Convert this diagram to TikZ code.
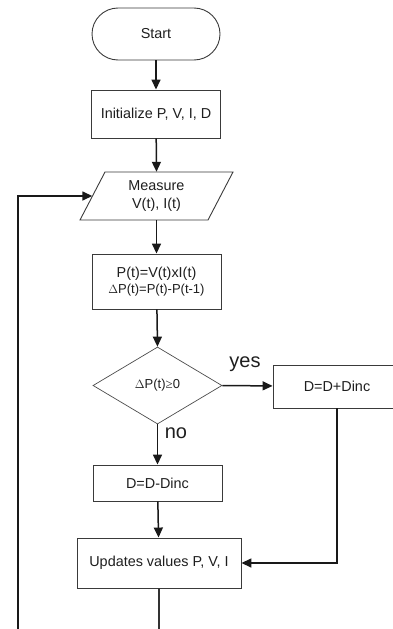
\documentclass[tikz,border=0pt]{standalone}
\usepackage{fontspec}
\setmainfont{Liberation Sans}
\newfontfamily\serifsym{Liberation Serif}
\usetikzlibrary{shapes.geometric,arrows.meta}
\definecolor{boxline}{HTML}{3A3A3A}
\definecolor{txt}{HTML}{1E1E1E}
\tikzset{
  box/.style={draw=boxline, line width=0.9pt, rectangle, inner sep=2pt, align=center, text=txt, font=\fontsize{14.4}{17}\selectfont},
  flow/.style={draw=black!90, line width=1.5pt, -{Triangle[length=10pt,width=9pt]}},
  plain/.style={draw=black!80, line width=1.5pt},
  lbl/.style={text=txt, font=\fontsize{20}{22}\selectfont, inner sep=0pt}
}
\begin{document}
\begin{tikzpicture}[x=1pt,y=-1pt]
\useasboundingbox (0,0) rectangle (393,629);
\clip (0,0) rectangle (393,629);
% nodes
\node[box, rounded corners=26pt, minimum width=128pt, minimum height=52pt] (start) at (156,34) {Start};
\node[box, minimum width=129pt, minimum height=48pt] (init) at (156,114) {Initialize P, V, I, D};
\draw[boxline, line width=0.9pt] (80,220) -- (105,172) -- (233,172) -- (208,220) -- cycle;
\node[rectangle, inner sep=0pt, minimum width=128pt, minimum height=48pt, align=center, text=txt, font=\fontsize{14.4}{18}\selectfont] (meas) at (156.5,196) {Measure\\V(t), I(t)};
\node[box, minimum width=129pt, minimum height=55pt] (pbox) at (156.5,281.5) {P(t)=V(t)xI(t)\\[-1pt]{\fontsize{13}{15}\selectfont $\Delta$P(t)=P(t)-P(t-1)}};
\node[diamond, draw=black!70, line width=0.7pt, inner sep=0pt, minimum width=129pt, minimum height=77pt, text=txt, font=\fontsize{13}{15}\selectfont] (dia) at (157.5,385.5) {$\Delta$P(t){\serifsym ≥}0};
\node[box, minimum width=128pt, minimum height=43pt] (plus) at (337,386.5) {D=D+Dinc};
\node[box, minimum width=129pt, minimum height=36pt] (minus) at (157.5,483) {D=D-Dinc};
\node[box, minimum width=164pt, minimum height=50pt] (upd) at (159,563) {Updates values P, V, I};
% labels
\node[lbl] (yes) at (245,364) {yes};
\node[lbl] (no) at (176,433) {no};
% free ends
\coordinate (lb) at (18,640);
\coordinate (ub) at (159,640);
% connectors
\draw[flow] (start) -- (init);
\draw[flow] (init) -- (meas.north);
\draw[flow] (meas.south) -- (pbox);
\draw[flow] (pbox) -- (dia.north);
\draw[flow] (dia.east) -- (plus);
\draw[flow] (dia.south) -- (minus);
\draw[flow] (minus) -- (upd);
\draw[flow] (plus.south) |- (upd.east);
\draw[flow] (lb) |- (meas.west);
\draw[plain] (upd.south) -- (ub);
\end{tikzpicture}
\end{document}
